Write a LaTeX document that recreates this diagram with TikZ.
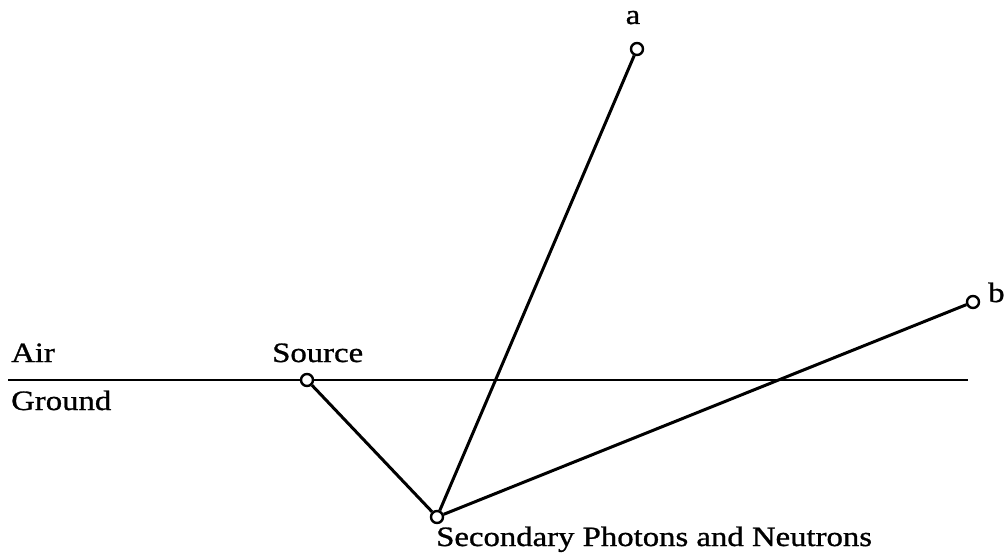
\documentclass[tikz,border=0pt]{standalone}
\usepackage{fontspec}
\setmainfont{Liberation Serif}[FakeStretch=1.17,FakeBold=1]
\usepackage{tikz}
\usetikzlibrary{positioning}

\begin{document}
\begin{tikzpicture}[x=1pt, y=-1pt,
    pt/.style={draw, circle, fill=white, line width=2.4pt, minimum size=12pt, inner sep=0pt},
    ray/.style={line width=3pt},
    lbl/.style={inner sep=0pt, font=\fontsize{28}{32}\selectfont}]
    \useasboundingbox (0,0) rectangle (1008,559);
    % ground surface
    \coordinate (gl) at (8,380);
    \coordinate (gr) at (968,380);
    \draw[line width=2pt] (gl) -- (gr);
    \node[pt] (src) at (307,380) {};
    \node[pt] (sec) at (437,517) {};
    \node[pt] (a) at (637,49) {};
    \node[pt] (b) at (973,302) {};
    \draw[ray] (src) -- (sec);
    \draw[ray] (sec) -- (a);
    \draw[ray] (sec) -- (b);
    % labels
    \node[lbl, anchor=base west] (air) at (11,362) {Air};
    \node[lbl, anchor=base west] (gnd) at (11,410) {Ground};
    \node[lbl, anchor=base west] (srclbl) at (272,362) {Source};
    \node[lbl, anchor=base west] (seclbl) at (436,546) {Secondary Photons and Neutrons};
    \node[lbl, anchor=base] (albl) at (633,24) {a};
    \node[lbl, anchor=base west] (blbl) at (988,302) {b};
\end{tikzpicture}
\end{document}
